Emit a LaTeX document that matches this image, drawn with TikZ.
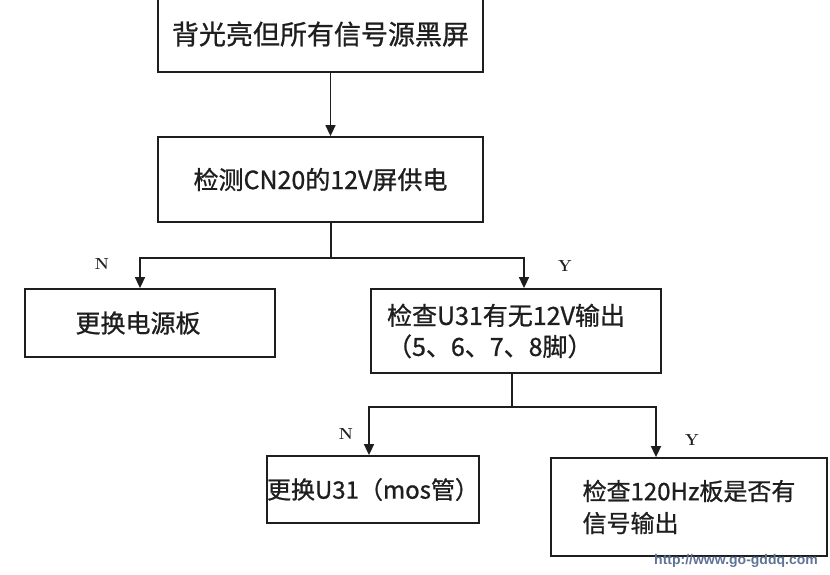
\documentclass[tikz,border=0pt]{standalone}
\usepackage{fontspec}
\newfontfamily\cjk[FakeBold=0.9]{Noto Sans CJK SC}
\newfontfamily\wmfont{Liberation Sans}
\usetikzlibrary{arrows.meta,positioning}
\definecolor{inkgray}{RGB}{30,30,30}
\definecolor{wmblue}{RGB}{95,115,150}
\tikzset{
  block/.style={rectangle, draw=inkgray, line width=1.8pt, align=left, inner sep=0pt,
                text=inkgray, font=\cjk\fontsize{25}{31}\selectfont},
  blocksmall/.style={block, font=\cjk\fontsize{24}{32}\selectfont},
  arrow/.style={-{Triangle[length=11pt, width=10pt]}, line width=1.6pt, inkgray},
  stem/.style={line width=1.1pt, inkgray},
  answer/.style={font=\fontsize{16}{16}\selectfont\bfseries, text=inkgray},
}

\begin{document}
\begin{tikzpicture}[x=1pt, y=-1pt]
\useasboundingbox (0,0) rectangle (830,574);
% Top: symptom and first check
\node[block, minimum width=325pt, minimum height=76pt, font=\cjk\fontsize{27}{31}\selectfont]
  (symptom) at (320.5,34) {背光亮但所有信号源黑屏};
\node[block, minimum width=325pt, minimum height=85pt] (supply) at (320.5,179.5) {检测CN20的12V屏供电};
\draw[arrow] ([xshift=10pt]symptom.south) -- ([xshift=10pt]supply.north);

% Middle: 12V present or not
\node[block, minimum width=250pt, minimum height=68pt] (psu) at (150,323) {更换电源板\hspace*{24pt}};
\node[block, minimum width=290pt, minimum height=84pt] (u31check) at (516,331)
  {检查U31有无12V输出\hspace*{20pt}\\（5、6、7、8脚）};
\coordinate (split1) at (331,258);
\draw[stem] ([xshift=10.5pt]supply.south) -- (split1);
\draw[arrow] (split1) -| ([xshift=-10pt]psu.north);
\draw[arrow] (split1) -| ([xshift=8pt]u31check.north);
\node[answer] (n1) at (102,264) {N};
\node[answer] (y1) at (565,266) {Y};

% Bottom: U31 output or not
\node[blocksmall, minimum width=210pt, minimum height=67pt] (mos) at (373,489.5) {更换U31（mos管）};
\node[blocksmall, minimum width=276pt, minimum height=98pt] (board) at (689,507)
  {检查120Hz板是否有\\信号输出};
\coordinate (split2) at (512,407);
\draw[stem] ([xshift=-4pt]u31check.south) -- (split2);
\draw[arrow] (split2) -| ([xshift=-4pt]mos.north);
\draw[arrow] (split2) -| ([xshift=-33pt]board.north);
\node[answer] (n2) at (346,434) {N};
\node[answer] (y2) at (692,440) {Y};

\node[font=\wmfont\fontsize{14}{14}\selectfont\bfseries, text=wmblue] (site) at (736,561) {http://www.go-gddq.com};
\end{tikzpicture}
\end{document}
